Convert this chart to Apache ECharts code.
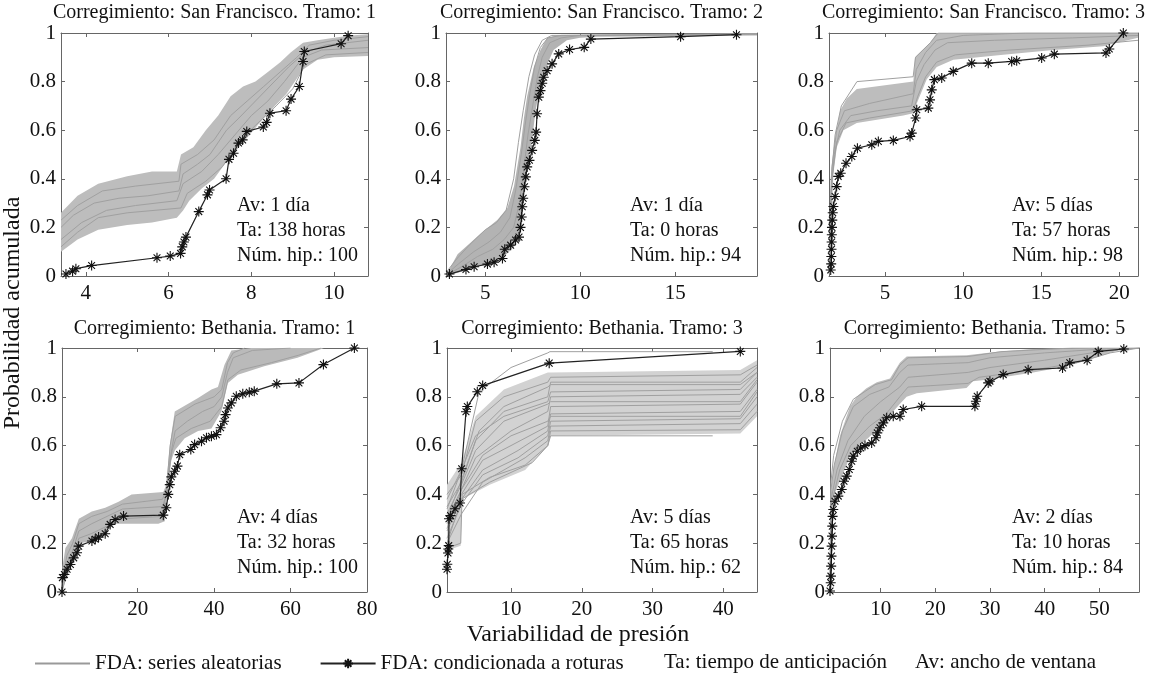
<!DOCTYPE html>
<html><head><meta charset="utf-8">
<script src="https://cdn.jsdelivr.net/npm/echarts@6/dist/echarts.min.js"></script>
<style>html,body{margin:0;padding:0;background:#fff}#c{width:1149px;height:677px}</style>
</head><body><div id="c"></div>
<script>
// ---------------- DATA ----------------
const panelTitles = ['Corregimiento: San Francisco. Tramo: 1','Corregimiento: San Francisco. Tramo: 2','Corregimiento: San Francisco. Tramo: 3',
  'Corregimiento: Bethania. Tramo: 1','Corregimiento: Bethania. Tramo: 3','Corregimiento: Bethania. Tramo: 5'];
const yAxisTitle = 'Probabilidad acumulada';
const xAxisTitle = 'Variabilidad de presión';
const legendNames = ['FDA: series aleatorias','FDA: condicionada a roturas'];
const legendExtra = ['Ta: tiempo de anticipación','Av: ancho de ventana'];

const p1Notes = ['Av: 1 día','Ta: 138 horas','Núm. hip.: 100'];
const p2Notes = ['Av: 1 día','Ta: 0 horas','Núm. hip.: 94'];
const p3Notes = ['Av: 5 días','Ta: 57 horas','Núm. hip.: 98'];
const p4Notes = ['Av: 4 días','Ta: 32 horas','Núm. hip.: 100'];
const p5Notes = ['Av: 5 días','Ta: 65 horas','Núm. hip.: 62'];
const p6Notes = ['Av: 2 días','Ta: 10 horas','Núm. hip.: 84'];

const p1XRange = [3.4, 10.82];  const p1XTicks = [4,6,8,10];
const p2XRange = [2.94, 19.3];  const p2XTicks = [5,10,15];
const p3XRange = [1.41, 21.2];  const p3XTicks = [5,10,15,20];
const p4XRange = [0.2, 80];     const p4XTicks = [20,40,60,80];
const p5XRange = [0.96, 44.76]; const p5XTicks = [10,20,30,40];
const p6XRange = [0.73, 57.26]; const p6XTicks = [10,20,30,40,50];
const yTicks = [0,0.2,0.4,0.6,0.8,1];

// Panel 1
const p1Star = [[3.52,0.008],[3.68,0.02],[3.76,0.03],[4.14,0.043],[5.72,0.075],[6.04,0.082],[6.29,0.093],[6.33,0.12],[6.37,0.14],[6.42,0.16],[6.73,0.265],[6.94,0.334],[6.99,0.354],[7.39,0.40],[7.46,0.48],[7.57,0.505],[7.69,0.547],[7.79,0.56],[7.89,0.595],[8.29,0.613],[8.37,0.632],[8.45,0.67],[8.84,0.68],[8.96,0.728],[9.16,0.78],[9.25,0.883],[9.28,0.924],[10.17,0.956],[10.34,0.989]];
const p1Upper = [[3.4,0.26],[3.8,0.33],[4.3,0.38],[5.0,0.41],[5.6,0.43],[6.2,0.43],[6.3,0.5],[6.6,0.53],[6.9,0.6],[7.2,0.66],[7.5,0.74],[7.8,0.78],[8.1,0.8],[8.4,0.84],[8.7,0.88],[8.95,0.92],[9.25,0.96],[9.6,0.97],[10.0,0.98],[10.4,0.99],[10.82,0.995]];
const p1Lower = [[3.4,0.10],[3.8,0.15],[4.3,0.19],[5.0,0.21],[5.6,0.22],[6.2,0.24],[6.35,0.27],[6.5,0.31],[6.8,0.36],[7.1,0.40],[7.4,0.47],[7.7,0.53],[8.0,0.59],[8.35,0.66],[8.85,0.75],[9.25,0.85],[9.6,0.89],[10.0,0.9],[10.82,0.905]];
const p1Gray = [
  [[3.4,0.2],[3.7,0.25],[4.2,0.3],[4.8,0.32],[5.5,0.33],[6.25,0.35],[6.35,0.42],[6.7,0.46],[7.0,0.5],[7.4,0.6],[7.7,0.65],[8.1,0.72],[8.5,0.79],[8.9,0.86],[9.3,0.92],[9.8,0.95],[10.82,0.97]],
  [[3.4,0.15],[3.9,0.22],[4.5,0.27],[5.2,0.29],[6.2,0.31],[6.35,0.38],[6.8,0.43],[7.2,0.5],[7.6,0.58],[8.0,0.66],[8.4,0.72],[8.8,0.8],[9.25,0.9],[9.7,0.93],[10.82,0.94]],
  [[3.4,0.23],[3.8,0.29],[4.4,0.35],[5.2,0.37],[6.25,0.39],[6.3,0.46],[6.7,0.5],[7.1,0.56],[7.5,0.66],[7.9,0.72],[8.3,0.78],[8.7,0.84],[9.1,0.9],[9.4,0.95],[10.0,0.97],[10.82,0.985]],
  [[3.4,0.12],[3.8,0.18],[4.3,0.24],[5.0,0.26],[6.3,0.28],[6.45,0.34],[6.9,0.39],[7.3,0.45],[7.7,0.55],[8.1,0.62],[8.6,0.7],[9.0,0.77],[9.3,0.87],[9.8,0.91],[10.82,0.92]]
];

// Panel 2
const p2Star = [[3.12,0.008],[3.99,0.027],[4.42,0.038],[5.12,0.049],[5.47,0.057],[5.91,0.072],[6.03,0.11],[6.34,0.127],[6.6,0.148],[6.78,0.16],[6.86,0.2],[6.92,0.243],[6.95,0.285],[7.0,0.32],[7.07,0.367],[7.14,0.408],[7.21,0.449],[7.33,0.476],[7.47,0.517],[7.61,0.558],[7.68,0.592],[7.73,0.668],[7.82,0.736],[7.91,0.763],[8.0,0.793],[8.08,0.818],[8.26,0.845],[8.52,0.873],[8.87,0.914],[9.44,0.932],[10.21,0.941],[10.56,0.975],[15.28,0.985],[18.22,0.993]];
const p2Upper = [[2.94,0.0],[3.03,0.015],[3.55,0.09],[4.77,0.175],[5.64,0.23],[6.17,0.28],[6.52,0.37],[6.86,0.53],[7.04,0.65],[7.21,0.74],[7.56,0.86],[7.91,0.93],[8.26,0.98],[8.78,0.99],[19.3,0.998]];
const p2Lower = [[2.94,0.0],[4.08,0.025],[5.12,0.052],[5.99,0.08],[6.52,0.12],[6.86,0.2],[7.04,0.34],[7.21,0.45],[7.47,0.56],[7.65,0.68],[7.91,0.79],[8.26,0.87],[8.6,0.93],[9.3,0.97],[10.0,0.98],[10.87,0.985],[19.3,0.99]];
const p2Gray = [
  [[3.0,0.01],[3.6,0.05],[4.4,0.1],[5.2,0.14],[5.8,0.18],[6.3,0.24],[6.6,0.35],[6.9,0.5],[7.1,0.62],[7.35,0.75],[7.6,0.86],[7.9,0.94],[8.3,0.98],[9.0,0.99],[19.3,0.995]],
  [[3.0,0.005],[3.8,0.04],[4.6,0.08],[5.4,0.11],[6.0,0.15],[6.5,0.2],[6.8,0.3],[7.0,0.42],[7.25,0.58],[7.5,0.7],[7.75,0.82],[8.0,0.9],[8.4,0.96],[9.0,0.98],[10,0.99],[19.3,0.995]],
  [[3.0,0.02],[3.5,0.07],[4.2,0.13],[5.0,0.19],[5.6,0.22],[6.1,0.27],[6.5,0.4],[6.75,0.55],[7.0,0.68],[7.3,0.82],[7.6,0.91],[8.0,0.97],[8.5,0.99],[19.3,0.998]]
];

// Panel 3
const p3Star = [[1.52,0.025],[1.55,0.05],[1.56,0.08],[1.57,0.11],[1.58,0.14],[1.59,0.17],[1.6,0.2],[1.62,0.23],[1.65,0.26],[1.69,0.286],[1.8,0.327],[1.9,0.368],[2.0,0.41],[2.16,0.423],[2.5,0.464],[2.87,0.492],[3.23,0.526],[4.15,0.54],[4.57,0.554],[5.53,0.558],[6.6,0.574],[6.71,0.588],[6.96,0.65],[7.03,0.684],[7.77,0.691],[7.88,0.725],[7.99,0.766],[8.16,0.808],[8.63,0.815],[9.37,0.842],[10.55,0.876],[11.61,0.876],[13.11,0.883],[13.43,0.886],[15.03,0.897],[15.84,0.913],[19.15,0.918],[19.36,0.934],[20.26,1.0]];
const p3Upper = [[1.41,0.03],[1.5,0.3],[1.59,0.42],[1.8,0.56],[2.12,0.68],[2.55,0.73],[3.19,0.77],[6.81,0.8],[6.92,0.9],[7.88,0.96],[8.31,1.0],[21.2,1.0]];
const p3Lower = [[1.41,0.0],[1.55,0.2],[1.69,0.42],[1.91,0.53],[2.33,0.6],[3.19,0.63],[6.17,0.66],[6.81,0.67],[7.03,0.71],[7.67,0.81],[8.31,0.86],[9.37,0.89],[12.57,0.91],[15.77,0.93],[18.97,0.945],[20.26,0.966],[21.2,0.98]];
const p3Gray = [
  [[1.42,0.01],[1.55,0.35],[1.75,0.5],[2.1,0.6],[2.8,0.66],[4.5,0.68],[6.7,0.7],[7.0,0.8],[7.5,0.87],[8.2,0.93],[9,0.96],[12,0.97],[17,0.98],[21.2,0.99]],
  [[1.42,0.02],[1.6,0.45],[1.9,0.6],[2.4,0.68],[4,0.71],[6.8,0.75],[7.0,0.85],[7.6,0.92],[8.3,0.97],[10,0.99],[14,1.0],[21.2,1.0]],
  [[1.42,0.01],[1.6,0.4],[1.9,0.55],[2.5,0.63],[4,0.65],[6.8,0.68],[7.1,0.74],[7.6,0.82],[8.3,0.88],[9.5,0.91],[13,0.93],[18,0.95],[21.2,0.97]],
  [[1.42,0.02],[1.55,0.4],[1.8,0.58],[2.2,0.7],[3.2,0.8],[6.8,0.82],[6.95,0.9],[7.9,0.96],[8.4,1.0],[21.2,1.0]]
];

// Panel 4
const p4Star = [[0.2,0.0],[0.3,0.059],[0.83,0.072],[1.53,0.093],[2.4,0.113],[3.26,0.14],[4.13,0.161],[4.56,0.188],[8.03,0.209],[8.9,0.216],[9.77,0.225],[11.5,0.239],[12.8,0.277],[14.1,0.297],[16.3,0.311],[26.7,0.315],[27.5,0.345],[28.0,0.4],[28.4,0.44],[28.8,0.472],[29.7,0.495],[30.4,0.516],[31.0,0.563],[33.9,0.584],[34.9,0.604],[36.7,0.618],[38.0,0.632],[39.3,0.638],[40.6,0.645],[41.7,0.673],[42.6,0.7],[43.0,0.727],[43.6,0.754],[44.5,0.775],[45.8,0.802],[47.5,0.812],[49.2,0.819],[50.5,0.823],[56.4,0.853],[62.2,0.857],[68.6,0.932],[76.7,1.0]];
const p4Upper = [[0.2,0.03],[0.3,0.1],[1.1,0.18],[2.8,0.22],[4.6,0.3],[8.0,0.33],[11.5,0.345],[15.0,0.37],[18.4,0.4],[26.7,0.41],[27.5,0.44],[28.4,0.6],[29.7,0.74],[35.8,0.795],[39.3,0.83],[41.0,0.84],[42.7,0.93],[43.6,0.96],[44.5,0.99],[49.7,1.0],[68.7,1.0]];
const p4Lower = [[0.2,0.0],[1.1,0.045],[2.8,0.11],[4.6,0.2],[8.9,0.21],[14.1,0.28],[25.4,0.28],[27.1,0.29],[28.0,0.44],[28.8,0.54],[29.7,0.58],[32.3,0.63],[35.8,0.66],[39.3,0.67],[41.9,0.74],[43.6,0.857],[46.2,0.89],[53.1,0.925],[61.8,0.96],[67.0,0.99],[68.7,1.0]];
const p4Gray = [
  [[0.2,0.02],[1.5,0.12],[3,0.17],[4.6,0.25],[8,0.28],[12,0.31],[16,0.34],[26.5,0.35],[27.5,0.4],[28.5,0.55],[29.8,0.66],[33,0.7],[37,0.74],[40,0.76],[42,0.8],[43.5,0.9],[45,0.96],[50,0.99],[60,1.0]],
  [[0.2,0.04],[1.5,0.15],[3,0.2],[4.6,0.28],[8,0.31],[12,0.33],[16,0.36],[26.5,0.38],[27.5,0.42],[28.5,0.6],[29.8,0.72],[35,0.77],[40,0.8],[42,0.83],[43.5,0.94],[45,0.98],[48,1.0]],
  [[0.2,0.0],[1.5,0.08],[3,0.14],[4.6,0.22],[8,0.24],[12,0.27],[16,0.3],[26.5,0.31],[27.8,0.45],[29,0.58],[30,0.63],[34,0.67],[39,0.7],[42,0.76],[43.6,0.87],[47,0.91],[55,0.94],[62,0.97],[68,1.0]]
];

// Panel 5
const p5Star = [[0.96,0.093],[1.0,0.114],[1.1,0.16],[1.14,0.176],[1.2,0.19],[1.24,0.3],[1.47,0.313],[2.09,0.341],[2.8,0.365],[3.03,0.505],[3.64,0.739],[3.83,0.76],[5.24,0.821],[6.0,0.846],[15.4,0.938],[42.4,0.986]];
const p5Upper = [[0.96,0.44],[3.0,0.53],[5.0,0.72],[9.0,0.83],[15.2,0.9],[15.6,0.9],[42.4,0.91],[44.76,0.95]];
const p5Lower = [[0.96,0.17],[2.9,0.19],[3.1,0.38],[7.0,0.44],[12.0,0.5],[15.2,0.6],[15.6,0.64],[42.4,0.65],[44.76,0.72]];
const p5Gray = [
  [[0.96,0.38],[3,0.5],[5.5,0.82],[10,0.92],[15.2,0.98],[15.5,0.985],[38.5,0.985]],
  [[0.96,0.4],[3,0.48],[5,0.7],[9,0.8],[15.2,0.86],[15.6,0.88],[42.4,0.89],[44.76,0.93]],
  [[0.96,0.35],[3,0.45],[5,0.62],[9,0.74],[15.2,0.8],[15.6,0.86],[42.4,0.86],[44.76,0.92]],
  [[0.96,0.3],[3,0.42],[5,0.55],[10,0.66],[15.2,0.74],[15.6,0.8],[42.4,0.81],[44.76,0.88]],
  [[0.96,0.28],[3,0.4],[6,0.54],[10,0.6],[15.2,0.68],[15.6,0.76],[42.4,0.77],[44.76,0.86]],
  [[0.96,0.25],[3,0.38],[6,0.5],[11,0.58],[15.2,0.66],[15.6,0.73],[42.4,0.74],[44.76,0.83]],
  [[0.96,0.22],[3,0.36],[6,0.48],[11,0.55],[15.2,0.64],[15.6,0.7],[42.4,0.71],[44.76,0.8]],
  [[0.96,0.2],[3,0.32],[6,0.45],[12,0.55],[15.2,0.62],[15.6,0.68],[42.4,0.69],[44.76,0.77]],
  [[0.96,0.18],[2.9,0.2],[3.1,0.4],[7,0.47],[12,0.52],[15.2,0.6],[15.6,0.66],[42.4,0.665],[44.76,0.74]],
  [[0.96,0.32],[3,0.44],[5,0.58],[9,0.7],[15.2,0.77],[15.6,0.78],[42.4,0.78],[44.76,0.87]],
  [[0.96,0.3],[3,0.46],[5.5,0.66],[9,0.76],[15.2,0.84],[15.6,0.85],[42.4,0.85],[44.76,0.9]],
  [[0.96,0.2],[3,0.38],[7,0.45],[13,0.53],[15.2,0.6],[15.6,0.64],[38.5,0.64]],
  [[0.96,0.26],[3,0.42],[6,0.56],[10,0.64],[15.2,0.7],[15.6,0.72],[42.4,0.72],[44.76,0.82]],
  [[0.96,0.34],[3,0.5],[5,0.64],[9,0.72],[15.2,0.78],[15.6,0.82],[42.4,0.83],[44.76,0.9]]
];

// Panel 6
const p6Star = [[0.73,0.004],[0.86,0.038],[0.9,0.065],[0.95,0.106],[1.0,0.147],[1.04,0.188],[1.1,0.229],[1.15,0.27],[1.2,0.31],[1.33,0.338],[1.64,0.372],[2.25,0.393],[2.87,0.42],[3.29,0.454],[3.78,0.475],[4.26,0.502],[4.7,0.536],[4.99,0.557],[5.72,0.577],[6.34,0.59],[7.13,0.6],[8.35,0.611],[9.14,0.632],[9.38,0.652],[9.87,0.673],[10.48,0.693],[11.1,0.714],[12.3,0.72],[13.53,0.72],[14.13,0.748],[17.5,0.761],[27.24,0.761],[27.42,0.782],[27.66,0.802],[29.67,0.857],[29.98,0.864],[32.42,0.891],[36.98,0.911],[43.27,0.918],[44.6,0.939],[47.77,0.95],[49.8,0.986],[54.48,0.996]];
const p6Upper = [[0.73,0.1],[0.9,0.4],[1.33,0.5],[2.56,0.64],[3.78,0.72],[4.4,0.76],[5.6,0.8],[7.4,0.835],[9.3,0.86],[11.7,0.875],[13.5,0.94],[14.75,0.965],[25.7,0.97],[31.8,0.986],[37.9,0.996],[50,1.0],[57.26,1.0]];
const p6Lower = [[0.73,0.0],[0.9,0.25],[1.04,0.34],[1.33,0.39],[3.78,0.52],[4.4,0.56],[6.2,0.6],[8.6,0.65],[9.9,0.69],[11.1,0.71],[13.5,0.77],[14.75,0.8],[16.6,0.815],[25.7,0.836],[26.9,0.864],[29.4,0.87],[37.9,0.9],[44,0.925],[50.1,0.966],[53.7,0.993],[56.2,1.0],[57.26,1.0]];
const p6Gray = [
  [[0.73,0.0],[0.9,0.42],[1.5,0.52],[3,0.66],[5,0.76],[8,0.81],[11.5,0.84],[13.5,0.9],[15,0.93],[26,0.94],[30,0.96],[40,0.98],[50,0.995],[57.26,1.0]],
  [[0.73,0.0],[0.95,0.38],[2,0.5],[4,0.62],[7,0.72],[10,0.78],[13.5,0.84],[15,0.88],[26,0.9],[30,0.92],[40,0.95],[50,0.985],[57.26,1.0]],
  [[0.73,0.0],[0.9,0.45],[1.4,0.56],[3,0.7],[5,0.79],[9,0.85],[12,0.87],[13.5,0.93],[15,0.96],[26,0.965],[32,0.985],[45,1.0],[57.26,1.0]],
  [[0.73,0.0],[1.0,0.36],[2.5,0.5],[4.5,0.6],[8,0.68],[11,0.73],[13.5,0.8],[15,0.84],[26,0.855],[28,0.88],[38,0.91],[46,0.94],[52,0.98],[57.26,1.0]]
];

// ---------------- LAYOUT / STYLE ----------------
const FONT = "'Liberation Serif', 'DejaVu Serif', serif";
const layouts = [
  {left:61,  top:33,  width:307, height:243, noteX:237,  noteY:[206,231,256], titleY:13},
  {left:446, top:33,  width:311, height:243, noteX:630,  noteY:[206,231,256], titleY:13},
  {left:829, top:33,  width:309, height:243, noteX:1012, noteY:[206,231,256], titleY:13},
  {left:62,  top:348, width:305, height:244, noteX:237,  noteY:[518,543,568], titleY:329},
  {left:447, top:348, width:310, height:244, noteX:630,  noteY:[518,543,568], titleY:329},
  {left:830, top:348, width:309, height:244, noteX:1012, noteY:[518,543,568], titleY:329}
];
const panels = [
  {xRange:p1XRange, xTicks:p1XTicks, upper:p1Upper, lower:p1Lower, gray:p1Gray, star:p1Star, notes:p1Notes, fill:'#bdbdbd'},
  {xRange:p2XRange, xTicks:p2XTicks, upper:p2Upper, lower:p2Lower, gray:p2Gray, star:p2Star, notes:p2Notes, fill:'#b3b3b3'},
  {xRange:p3XRange, xTicks:p3XTicks, upper:p3Upper, lower:p3Lower, gray:p3Gray, star:p3Star, notes:p3Notes, fill:'#bdbdbd'},
  {xRange:p4XRange, xTicks:p4XTicks, upper:p4Upper, lower:p4Lower, gray:p4Gray, star:p4Star, notes:p4Notes, fill:'#bababa'},
  {xRange:p5XRange, xTicks:p5XTicks, upper:p5Upper, lower:p5Lower, gray:p5Gray, star:p5Star, notes:p5Notes, fill:'#d2d2d2'},
  {xRange:p6XRange, xTicks:p6XTicks, upper:p6Upper, lower:p6Lower, gray:p6Gray, star:p6Star, notes:p6Notes, fill:'#bdbdbd'}
];
const STAR = 'path://M0,5 L10,5 M5,0 L5,10 M1.6,1.6 L8.4,8.4 M1.6,8.4 L8.4,1.6';
const GRAY = '#a0a0a0';
const FRAME = '#666';

const grid = [], xAxis = [], yAxis = [], series = [], graphic = [];
panels.forEach((p, i) => {
  const L = layouts[i];
  grid.push({left:L.left, top:L.top, width:L.width, height:L.height, containLabel:false});
  const axLine = {show:true, onZero:false, lineStyle:{color:FRAME, width:1}};
  const tickStyle = {color:FRAME, width:1};
  const lbl = {fontFamily:FONT, fontSize:21, color:'#111'};
  xAxis.push({type:'value', gridIndex:i, min:p.xRange[0], max:p.xRange[1], position:'bottom',
    axisLine:axLine, splitLine:{show:false},
    axisTick:{show:true, inside:true, length:4, customValues:p.xTicks, lineStyle:tickStyle},
    axisLabel:Object.assign({show:true, customValues:p.xTicks, margin:7}, lbl)});
  xAxis.push({type:'value', gridIndex:i, min:p.xRange[0], max:p.xRange[1], position:'top',
    axisLine:axLine, splitLine:{show:false},
    axisTick:{show:true, inside:true, length:4, customValues:p.xTicks, lineStyle:tickStyle},
    axisLabel:{show:false}});
  yAxis.push({type:'value', gridIndex:i, min:0, max:1, position:'left',
    axisLine:axLine, splitLine:{show:false},
    axisTick:{show:true, inside:true, length:4, customValues:yTicks, lineStyle:tickStyle},
    axisLabel:Object.assign({show:true, customValues:yTicks, margin:5}, lbl)});
  yAxis.push({type:'value', gridIndex:i, min:0, max:1, position:'right',
    axisLine:axLine, splitLine:{show:false},
    axisTick:{show:true, inside:true, length:4, customValues:yTicks, lineStyle:tickStyle},
    axisLabel:{show:false}});

  const xi = 2*i, yi = 2*i;
  series.push({type:'custom', name:'band'+i, xAxisIndex:xi, yAxisIndex:yi, silent:true, clip:true, z:1,
    data:[[p.xRange[0], 0]],
    renderItem:(params, api) => {
      const pts = p.upper.map(q => api.coord(q)).concat(p.lower.slice().reverse().map(q => api.coord(q)));
      return {type:'polygon', shape:{points:pts}, style:{fill:p.fill, lineWidth:0}};
    }});
  p.gray.forEach(g => series.push({type:'line', name:legendNames[0], xAxisIndex:xi, yAxisIndex:yi, data:g,
    symbol:'none', silent:true, z:2, animation:false, lineStyle:{color:GRAY, width:1}, itemStyle:{color:GRAY}}));
  series.push({type:'line', name:legendNames[1], xAxisIndex:xi, yAxisIndex:yi, data:p.star,
    symbol:STAR, symbolSize:10, showSymbol:true, showAllSymbol:true, silent:true, z:3, animation:false,
    lineStyle:{color:'#222', width:1.2},
    itemStyle:{color:'#111', borderColor:'#111', borderWidth:1.1}});

  graphic.push({type:'text', x:L.left + L.width/2, y:L.titleY,
    style:{text:panelTitles[i], fontFamily:FONT, fontSize:20, fill:'#111', textAlign:'center', textVerticalAlign:'middle'}});
  p.notes.forEach((t, k) => graphic.push({type:'text', x:L.noteX, y:L.noteY[k],
    style:{text:t, fontFamily:FONT, fontSize:20, fill:'#111', textAlign:'left', textVerticalAlign:'middle'}}));
});

graphic.push({type:'text', x:13, y:313, rotation:Math.PI/2,
  style:{text:yAxisTitle, fontFamily:FONT, fontSize:24, fill:'#111', textAlign:'center', textVerticalAlign:'middle'}});
graphic.push({type:'text', x:578, y:635,
  style:{text:xAxisTitle, fontFamily:FONT, fontSize:24, fill:'#111', textAlign:'center', textVerticalAlign:'middle'}});
graphic.push({type:'text', x:664, y:662,
  style:{text:legendExtra[0], fontFamily:FONT, fontSize:21, fill:'#111', textAlign:'left', textVerticalAlign:'middle'}});
graphic.push({type:'text', x:915, y:662,
  style:{text:legendExtra[1], fontFamily:FONT, fontSize:21, fill:'#111', textAlign:'left', textVerticalAlign:'middle'}});

const chart = echarts.init(document.getElementById('c'), null, {renderer:'canvas'});
chart.setOption({
  animation:false,
  backgroundColor:'#fff',
  grid, xAxis, yAxis, series, graphic,
  legend:{
    data:[
      {name:legendNames[0], icon:'path://M0,0 L100,0 L100,4 L0,4 Z', itemStyle:{color:'#999'}},
      {name:legendNames[1]}
    ],
    left:30, top:648, itemWidth:55, itemHeight:12, itemGap:38, selectedMode:false,
    textStyle:{fontFamily:FONT, fontSize:21, color:'#111'}}
});
</script></body></html>
